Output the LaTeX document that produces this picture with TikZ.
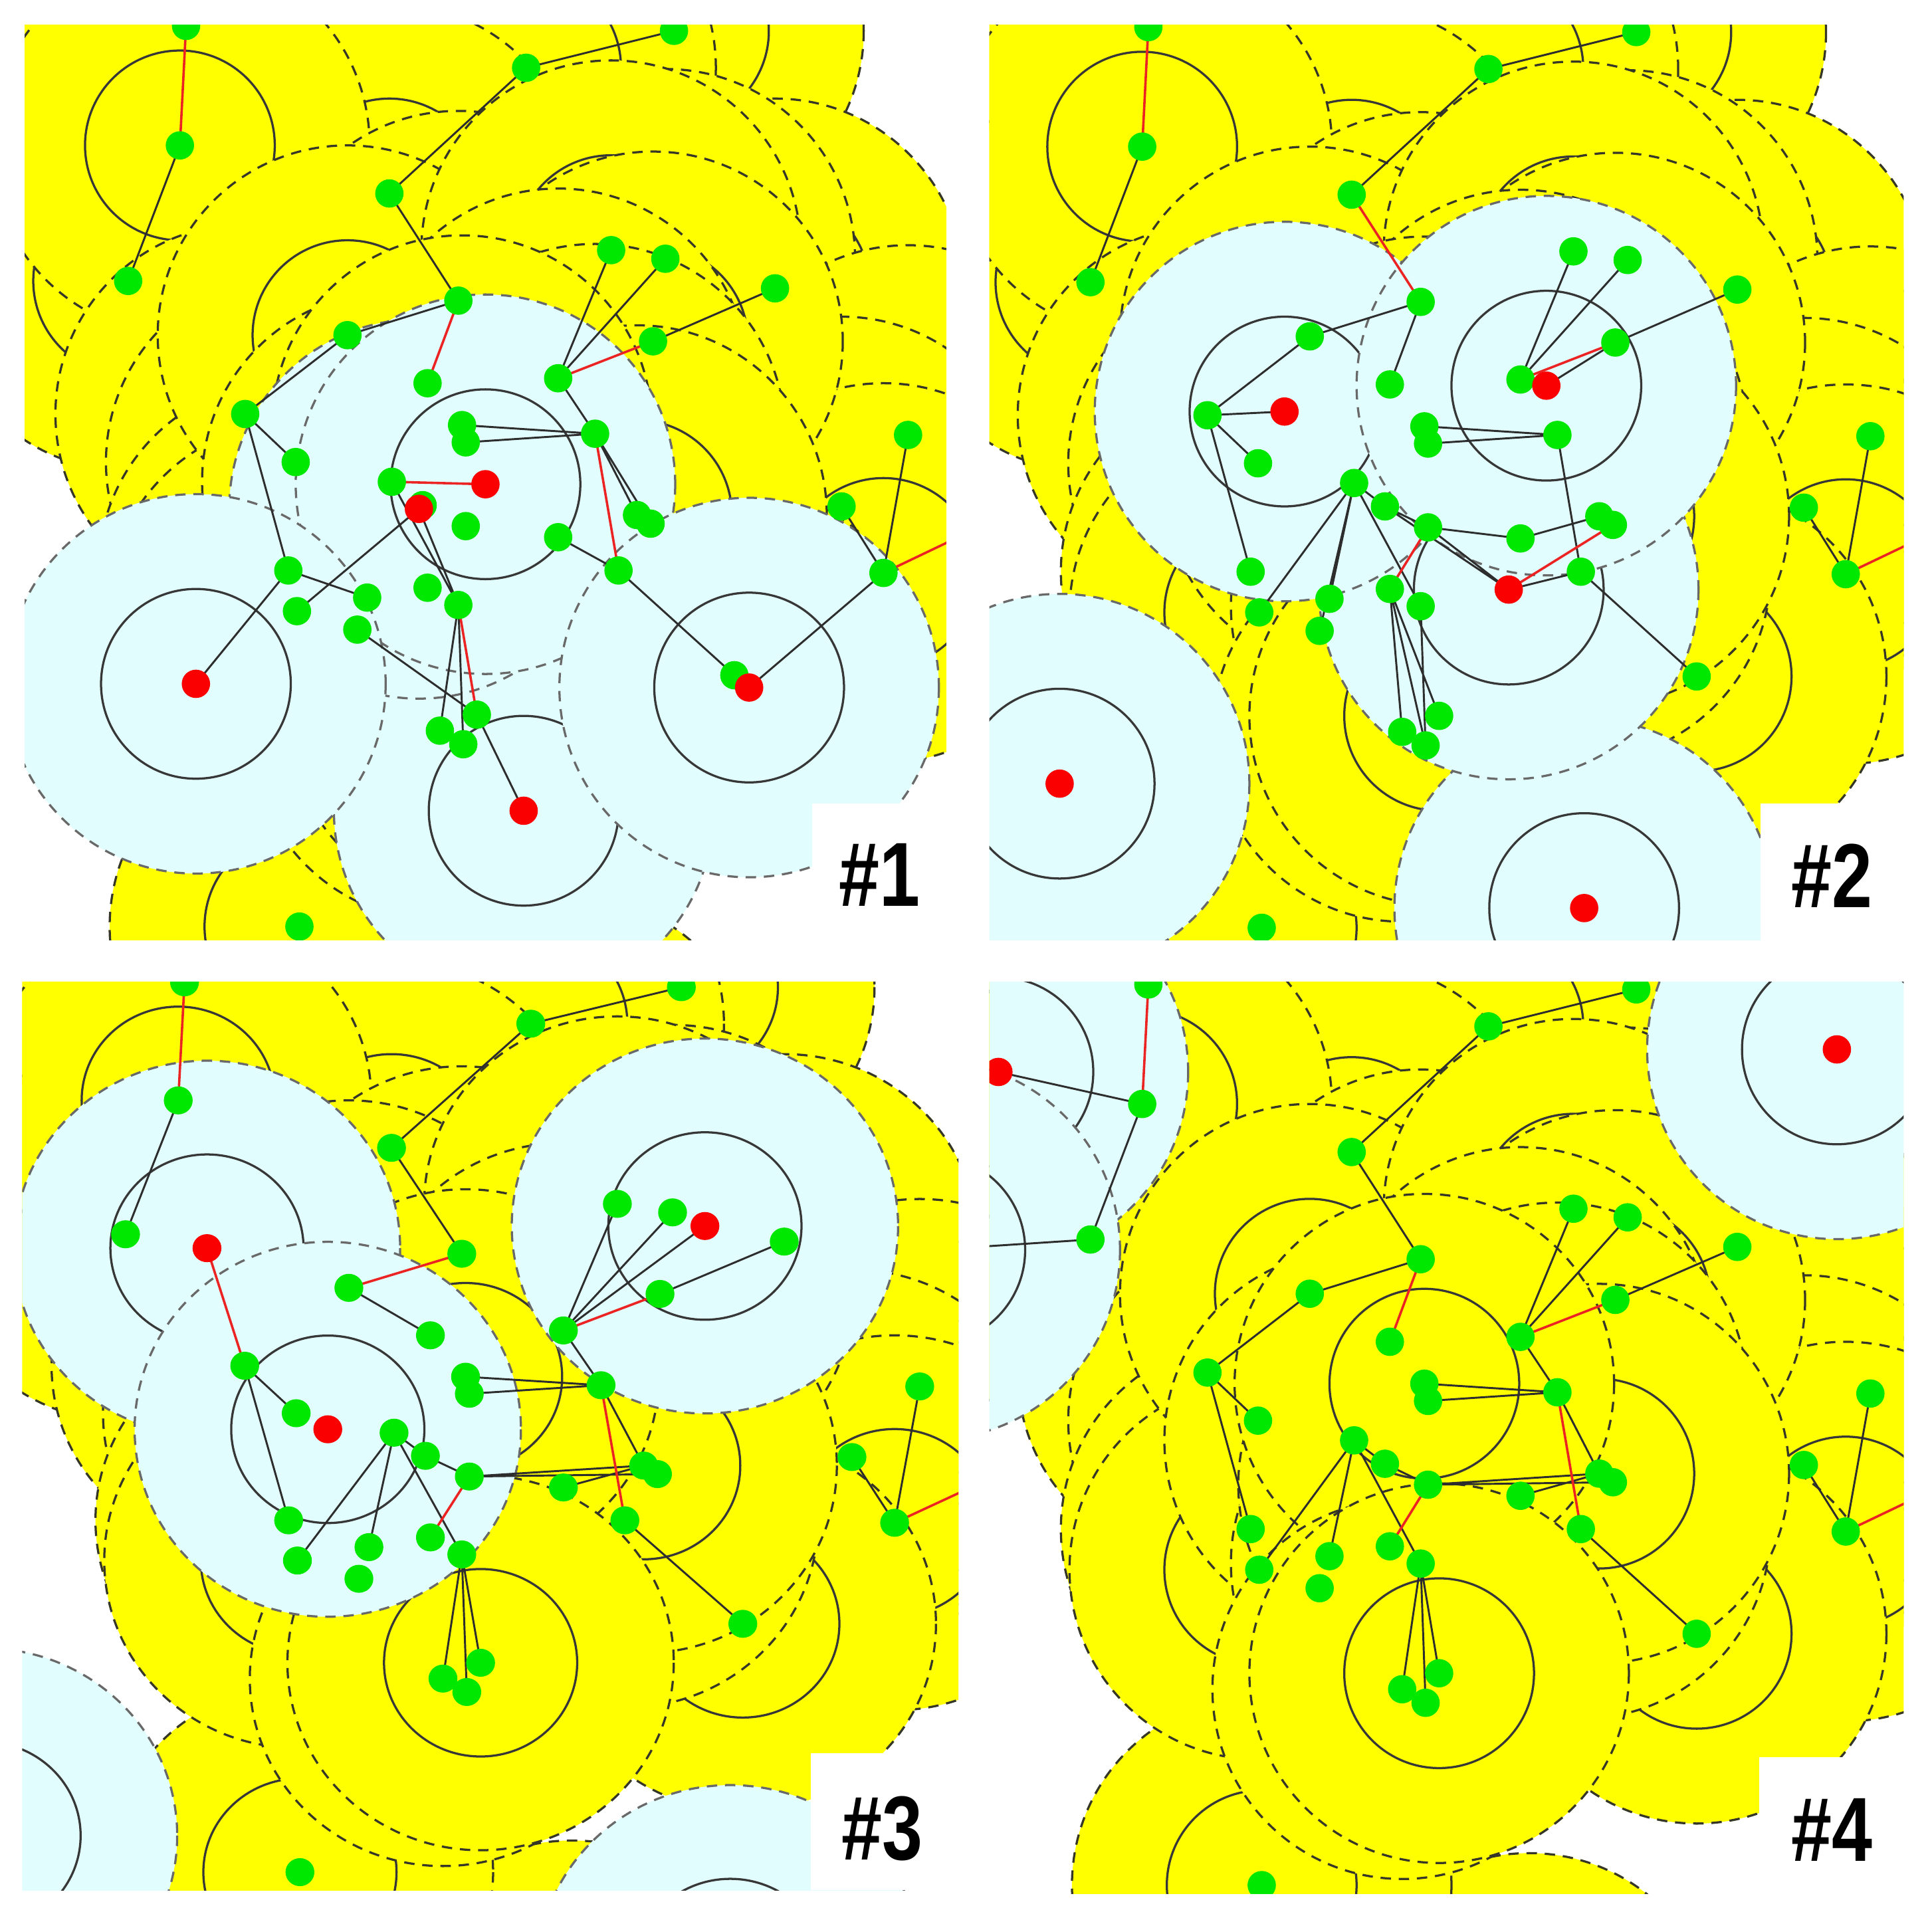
\documentclass[tikz,border=0pt]{standalone}
\usepackage{fontspec}
\setmainfont{Liberation Sans}
\definecolor{yel}{RGB}{255,255,0}
\definecolor{cya}{RGB}{226,253,253}
\definecolor{grn}{RGB}{0,232,0}
\definecolor{rdot}{RGB}{250,0,0}
\definecolor{ln}{RGB}{45,45,45}
\definecolor{rln}{RGB}{235,35,35}
\definecolor{ydash}{RGB}{55,55,40}
\definecolor{cdash}{RGB}{105,105,105}
\definecolor{ring}{RGB}{55,55,55}
\tikzset{
  ydashed/.style={draw=ydash, line width=0.5pt, dash pattern=on 2.4pt off 1.8pt},
  cdashed/.style={draw=cdash, line width=0.5pt, dash pattern=on 2.4pt off 1.8pt},
  ringline/.style={draw=ring, line width=0.5pt},
  bl/.style={draw=ln, line width=0.45pt},
  rl/.style={draw=rln, line width=0.55pt},
  labelbox/.style={fill=white},
  labeltext/.style={font=\fontsize{21}{21}\selectfont\bfseries, inner sep=0pt},
}
\newcommand\basenodes[1]{%
\coordinate (#1-1) at (151,21);
\coordinate (#1-2) at (146,118);
\coordinate (#1-3) at (104,228);
\coordinate (#1-4) at (427,55);
\coordinate (#1-5) at (547,25);
\coordinate (#1-6) at (316,157);
\coordinate (#1-7) at (372,244);
\coordinate (#1-8) at (282,272);
\coordinate (#1-9) at (347,311);
\coordinate (#1-10) at (199,336);
\coordinate (#1-11) at (240,375);
\coordinate (#1-12) at (496,203);
\coordinate (#1-13) at (540,210);
\coordinate (#1-14) at (629,234);
\coordinate (#1-15) at (530,277);
\coordinate (#1-16) at (453,307);
\coordinate (#1-17) at (375,345);
\coordinate (#1-18) at (378,359);
\coordinate (#1-19) at (483,352);
\coordinate (#1-20) at (318,391);
\coordinate (#1-21) at (343,410);
\coordinate (#1-22) at (378,427);
\coordinate (#1-23) at (517,418);
\coordinate (#1-24) at (528,425);
\coordinate (#1-25) at (453,436);
\coordinate (#1-26) at (502,463);
\coordinate (#1-27) at (234,463);
\coordinate (#1-28) at (241,496);
\coordinate (#1-29) at (298,485);
\coordinate (#1-30) at (290,511);
\coordinate (#1-31) at (347,477);
\coordinate (#1-32) at (372,491);
\coordinate (#1-33) at (387,580);
\coordinate (#1-34) at (357,593);
\coordinate (#1-35) at (376,604);
\coordinate (#1-36) at (596,548);
\coordinate (#1-37) at (683,411);
\coordinate (#1-38) at (737,353);
\coordinate (#1-39) at (717,465);
\coordinate (#1-40) at (243,752);
\coordinate (#1-O1) at (807,383);
\coordinate (#1-O2) at (460,880);
\coordinate (#1-T) at (807,422);
}
\newcommand\sens[2]{%
\fill[yel] (#1-#2) circle[radius=154];
\draw[ydashed] (#1-#2) circle[radius=154];
\draw[ringline] (#1-#2) circle[radius=77];}
\newcommand\allsensors[1]{%
\sens{#1}{O2}\sens{#1}{40}\sens{#1}{1}\sens{#1}{5}\sens{#1}{4}\sens{#1}{O1}%
\sens{#1}{14}\sens{#1}{13}\sens{#1}{38}\sens{#1}{37}\sens{#1}{39}\sens{#1}{36}%
\sens{#1}{6}\sens{#1}{3}\sens{#1}{2}\sens{#1}{10}\sens{#1}{11}\sens{#1}{27}%
\sens{#1}{30}\sens{#1}{29}\sens{#1}{28}\sens{#1}{9}\sens{#1}{7}\sens{#1}{8}%
\sens{#1}{12}\sens{#1}{15}\sens{#1}{16}\sens{#1}{19}\sens{#1}{26}%
\sens{#1}{25}\sens{#1}{20}\sens{#1}{32}\sens{#1}{22}%
\sens{#1}{23}\sens{#1}{17}\sens{#1}{34}\sens{#1}{33}}
\newcommand\mob[1]{%
\fill[cya] (#1) circle[radius=154];
\draw[cdashed] (#1) circle[radius=154];
\draw[ringline] (#1) circle[radius=77];}
\newcommand\mobnr[1]{%
\fill[cya] (#1) circle[radius=154];
\draw[cdashed] (#1) circle[radius=154];}
\newcommand\greens[1]{\foreach \k in {1,...,40}{\fill[grn] (#1-\k) circle[radius=11.5];}}
\newcommand\reddot[1]{\fill[rdot] (#1) circle[radius=11.5];}
\newcommand\commonedges[1]{%
\draw[rl] (#1-1) -- (#1-2) (#1-39) -- (#1-T);
\draw[bl] (#1-2) -- (#1-3) (#1-6) -- (#1-4) -- (#1-5) (#1-38) -- (#1-39) (#1-37) -- (#1-39);}

\begin{document}
\begin{tikzpicture}[x=0.01cm, y=-0.01cm]
\useasboundingbox (0,0) rectangle (1568,1553);
\fill[white] (0,0) rectangle (1568,1553);

% ---------------- panel 1
\begin{scope}
\clip (20,20) rectangle (768,763);
\basenodes{a}
\coordinate (a-Ra) at (394,393);
\coordinate (a-Rb) at (340,413);
\coordinate (a-Rc) at (159,555);
\coordinate (a-Rd) at (608,558);
\coordinate (a-Re) at (425,658);
\allsensors{a}
\mob{a-Re}\mobnr{a-Rb}\mob{a-Ra}\mob{a-Rc}\mob{a-Rd}
\commonedges{a}
\draw[bl] (a-6) -- (a-7) -- (a-8) -- (a-10) -- (a-11) (a-10) -- (a-27) -- (a-29)
  (a-27) -- (a-Rc) (a-28) -- (a-Rb) (a-30) -- (a-33) (a-20) -- (a-32) (a-Rb) -- (a-32)
  (a-17) -- (a-19) (a-18) -- (a-19) (a-16) -- (a-12) (a-16) -- (a-13) (a-15) -- (a-14)
  (a-16) -- (a-19) (a-19) -- (a-23) (a-19) -- (a-24) (a-25) -- (a-26) -- (a-36)
  (a-Rd) -- (a-39) (a-32) -- (a-34) (a-32) -- (a-35) (a-33) -- (a-Re);
\draw[rl] (a-7) -- (a-9) (a-20) -- (a-Ra) (a-16) -- (a-15) (a-19) -- (a-26) (a-32) -- (a-33);
\greens{a}
\reddot{a-Ra}\reddot{a-Rb}\reddot{a-Rc}\reddot{a-Rd}\reddot{a-Re}
\end{scope}

% ---------------- panel 2
\begin{scope}[shift={(781,1)}]
\clip (22,19) rectangle (764,762);
\basenodes{b}
\coordinate (b-Ra) at (261.5,333);
\coordinate (b-Rb) at (474,312);
\coordinate (b-Rc) at (443.5,477.5);
\coordinate (b-Rd) at (79,635);
\coordinate (b-Re) at (504.7,736);
\allsensors{b}
\mob{b-Rd}\mob{b-Re}\mob{b-Rc}\mob{b-Ra}\mob{b-Rb}
\commonedges{b}
\draw[bl] (b-7) -- (b-8) -- (b-10) (b-7) -- (b-9) (b-10) -- (b-Ra) (b-10) -- (b-11)
  (b-10) -- (b-27) (b-16) -- (b-12) (b-16) -- (b-13) (b-Rb) -- (b-15) (b-15) -- (b-14)
  (b-17) -- (b-19) (b-18) -- (b-19) (b-19) -- (b-26) (b-20) -- (b-28) (b-20) -- (b-29)
  (b-20) -- (b-30) (b-20) -- (b-21) -- (b-22) (b-20) -- (b-32) (b-21) -- (b-Rc)
  (b-22) -- (b-Rc) (b-22) -- (b-25) -- (b-23) (b-26) -- (b-Rc) (b-26) -- (b-36)
  (b-31) -- (b-34) (b-31) -- (b-35) (b-31) -- (b-33) (b-32) -- (b-35);
\draw[rl] (b-6) -- (b-7) (b-16) -- (b-15) (b-22) -- (b-31) (b-Rc) -- (b-24);
\greens{b}
\reddot{b-Ra}\reddot{b-Rb}\reddot{b-Rc}\reddot{b-Rd}\reddot{b-Re}
\end{scope}

% ---------------- panel 3
\begin{scope}[shift={(-4,776.5)}, xscale=1.018, yscale=0.988]
\clip (21.6,20.7) rectangle (768,766.7);
\basenodes{c}
\coordinate (c-Ra) at (168.9,239.4);
\coordinate (c-Rb) at (265.2,388.2);
\coordinate (c-Rc) at (565.8,221.2);
\coordinate (c-Oa) at (-8.8,722);
\coordinate (c-Ob) at (586,834.5);
\allsensors{c}
\mob{c-Oa}\mob{c-Ob}\mob{c-Ra}\mob{c-Rb}\mob{c-Rc}
\commonedges{c}
\draw[bl] (c-6) -- (c-7) (c-8) -- (c-9) (c-10) -- (c-11) (c-10) -- (c-27)
  (c-20) -- (c-28) (c-20) -- (c-29) (c-20) -- (c-32) (c-20) -- (c-21) -- (c-22)
  (c-22) -- (c-23) (c-22) -- (c-24) (c-25) -- (c-23) (c-17) -- (c-19) (c-18) -- (c-19)
  (c-16) -- (c-12) (c-16) -- (c-13) (c-16) -- (c-Rc) (c-15) -- (c-14) (c-16) -- (c-19)
  (c-19) -- (c-23) (c-26) -- (c-36) (c-32) -- (c-34) (c-32) -- (c-35) (c-32) -- (c-33);
\draw[rl] (c-8) -- (c-7) (c-Ra) -- (c-10) (c-22) -- (c-31) (c-16) -- (c-15) (c-19) -- (c-26);
\greens{c}
\reddot{c-Ra}\reddot{c-Rb}\reddot{c-Rc}
\end{scope}

% ---------------- panel 4
\begin{scope}[shift={(781,778)}]
\clip (22,19) rectangle (764,759);
\basenodes{d}
\coordinate (d-Ra) at (29.3,92);
\coordinate (d-Rb) at (709.8,73.7);
\coordinate (d-Oa) at (-26,236.5);
\allsensors{d}
\mob{d-Ra}\mob{d-Oa}\mob{d-Rb}
\commonedges{d}
\draw[bl] (d-Ra) -- (d-2) (d-3) -- (d-Oa) (d-6) -- (d-7) -- (d-8) -- (d-10) -- (d-11)
  (d-10) -- (d-27) (d-16) -- (d-12) (d-16) -- (d-13) (d-15) -- (d-14) (d-16) -- (d-19)
  (d-17) -- (d-19) (d-18) -- (d-19) (d-19) -- (d-23) (d-20) -- (d-28) (d-20) -- (d-29)
  (d-20) -- (d-32) (d-20) -- (d-21) -- (d-22) (d-22) -- (d-23) (d-22) -- (d-24)
  (d-25) -- (d-23) (d-26) -- (d-36) (d-32) -- (d-34) (d-32) -- (d-35) (d-32) -- (d-33);
\draw[rl] (d-7) -- (d-9) (d-16) -- (d-15) (d-19) -- (d-26) (d-22) -- (d-31);
\greens{d}
\reddot{d-Ra}\reddot{d-Rb}
\end{scope}

% ---------------- labels
\fill[labelbox] (659,652) rectangle (768,763);
\fill[labelbox] (1429,652) rectangle (1545,763);
\fill[labelbox] (658,1423) rectangle (778,1534);
\fill[labelbox] (1428,1426) rectangle (1545,1537);
\node[labeltext] (lab1) at (714,710) {\scalebox{0.8}[1]{\#1}};
\node[labeltext] (lab2) at (1487,711) {\scalebox{0.8}[1]{\#2}};
\node[labeltext] (lab3) at (716,1484) {\scalebox{0.8}[1]{\#3}};
\node[labeltext] (lab4) at (1487,1485) {\scalebox{0.8}[1]{\#4}};
\end{tikzpicture}
\end{document}
